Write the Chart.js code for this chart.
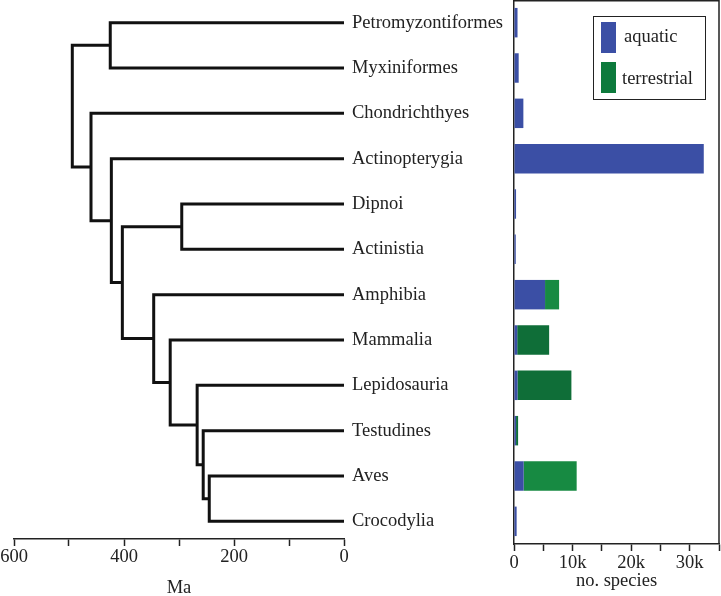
<!DOCTYPE html>
<html>
<head>
<meta charset="utf-8">
<script src="https://cdn.jsdelivr.net/npm/chart.js@4.4.1/dist/chart.umd.min.js"></script>
<style>
  html, body { margin: 0; padding: 0; background: #fff; overflow: hidden; }
  #wrap { position: relative; width: 721px; height: 596px; }
  canvas { position: absolute; left: 0; top: 0; }
  #legend { position: absolute; left: 593px; top: 16px; width: 113px; height: 84px; box-sizing: border-box;
            border: 1.5px solid #222; font-family: 'Liberation Serif', 'Times New Roman', serif; font-size: 18.5px; color: #222; }
  .sw { position: absolute; width: 15px; height: 31px; }
  .lt { position: absolute; line-height: 20px; white-space: nowrap; }
</style>
</head>
<body>
<div id="wrap">
  <canvas id="tree" width="721" height="596"></canvas>
  <canvas id="bars" width="721" height="596"></canvas>
  <div id="legend"></div>
</div>
<script>
// ---- data ----
const taxa = ['Petromyzontiformes','Myxiniformes','Chondrichthyes','Actinopterygia','Dipnoi','Actinistia',
              'Amphibia','Mammalia','Lepidosauria','Testudines','Aves','Crocodylia'];
const aquatic     = [600, 800, 1600, 32400, 350, 300, 5300, 550, 600, 350, 1650, 450];
const terrestrial = [0, 0, 0, 0, 0, 0, 2400, 5450, 9200, 350, 9050, 0];
const seriesNames = ['aquatic', 'terrestrial'];

const nodeNames = ['Vertebrata','Cyclostomata','Gnathostomata','Osteichthyes','Sarcopterygii','Dipnomorpha',
                   'Tetrapoda','Amniota','Sauropsida','Archelosauria','Archosauria'];
const nodeChildA = ['Cyclostomata','Petromyzontiformes','Chondrichthyes','Actinopterygia','Dipnomorpha','Dipnoi',
                    'Amphibia','Mammalia','Lepidosauria','Testudines','Aves'];
const nodeChildB = ['Gnathostomata','Myxiniformes','Osteichthyes','Sarcopterygii','Tetrapoda','Actinistia',
                    'Amniota','Sauropsida','Archelosauria','Archosauria','Crocodylia'];
const nodeAges = [494, 425, 460, 423, 403, 295, 346, 316, 267, 256, 245];   // Ma

const maTicks = [600, 400, 200, 0];
const speciesTicks = [0, 10000, 20000, 30000];

// ---- styles ----
const FONT = "'Liberation Serif', 'Times New Roman', serif";
const FS = 18.5;
const INK = '#222';
const BLUE = '#3b4fa5';
const GREEN_LEG = '#0d7a3c';
const greenFor = ['#178a42','#178a42','#178a42','#178a42','#178a42','#178a42',
                  '#178a42','#0f6e38','#0f6e38','#0f6e38','#178a42','#178a42'];

// ---- tree geometry from topology ----
function ageOf(n) { const i = nodeNames.indexOf(n); return i < 0 ? 0 : nodeAges[i]; }
function yOf(n) {
  const t = taxa.indexOf(n);
  if (t >= 0) return t;
  const i = nodeNames.indexOf(n);
  return (yOf(nodeChildA[i]) + yOf(nodeChildB[i])) / 2;
}
const treeSets = nodeNames.map((n, i) => {
  const a = nodeChildA[i], b = nodeChildB[i], age = nodeAges[i];
  return {
    data: [{x: ageOf(a), y: yOf(a)}, {x: age, y: yOf(a)}, {x: age, y: yOf(b)}, {x: ageOf(b), y: yOf(b)}],
    showLine: true, borderColor: '#111', borderWidth: 3, pointRadius: 0, tension: 0, fill: false,
    borderJoinStyle: 'miter', borderCapStyle: 'butt'
  };
});

new Chart(document.getElementById('tree'), {
  type: 'scatter',
  data: { datasets: treeSets },
  options: {
    responsive: false, animation: false,
    layout: { padding: { left: 14, right: 377, top: 0, bottom: 0 } },
    plugins: { legend: { display: false }, tooltip: { enabled: false } },
    scales: {
      x: {
        type: 'linear', min: 0, max: 600, reverse: true,
        afterFit: s => { s.height = 57; },
        grid: { display: true, drawOnChartArea: false, drawTicks: true, tickLength: 7, tickColor: INK, tickWidth: 1.5 },
        border: { display: true, color: INK, width: 1.5 },
        ticks: {
          stepSize: 100, padding: 0, color: INK, font: { family: FONT, size: FS }, maxRotation: 0, autoSkip: false,
          callback: v => maTicks.includes(v) ? String(v) : ''
        },
        title: { display: true, text: 'Ma', color: INK, font: { family: FONT, size: FS, lineHeight: 1 }, padding: { top: 0, bottom: -1 } }
      },
      y: { type: 'linear', display: false, min: -0.5, max: 11.39, reverse: true }
    }
  }
});

const framePlugin = {
  id: 'frame',
  afterDraw(chart) {
    const { ctx, chartArea: a } = chart;
    ctx.save();
    ctx.strokeStyle = INK; ctx.lineWidth = 1.5;
    ctx.beginPath();
    ctx.moveTo(a.left, a.top + 0.75); ctx.lineTo(a.right, a.top + 0.75); ctx.lineTo(a.right, a.bottom);
    ctx.stroke();
    ctx.restore();
  }
};

new Chart(document.getElementById('bars'), {
  type: 'bar',
  data: {
    labels: taxa,
    datasets: [
      { label: seriesNames[0], data: aquatic, backgroundColor: BLUE, borderWidth: 0, barPercentage: 0.65, categoryPercentage: 1 },
      { label: seriesNames[1], data: terrestrial, backgroundColor: greenFor, borderWidth: 0, barPercentage: 0.65, categoryPercentage: 1 }
    ]
  },
  options: {
    indexAxis: 'y', responsive: false, animation: false,
    layout: { padding: { left: 352, right: 2, top: 0, bottom: 0 } },
    plugins: { legend: { display: false }, tooltip: { enabled: false } },
    scales: {
      x: {
        stacked: true, min: 0, max: 35000,
        afterFit: s => { s.height = 52; },
        grid: { display: true, drawOnChartArea: false, drawTicks: true, tickLength: 7, tickColor: INK, tickWidth: 1.5 },
        border: { display: true, color: INK, width: 1.5 },
        ticks: {
          stepSize: 5000, padding: 1, color: INK, font: { family: FONT, size: FS }, maxRotation: 0, autoSkip: false,
          callback: v => speciesTicks.includes(v) ? (v === 0 ? '0' : (v / 1000) + 'k') : ''
        },
        title: { display: true, text: 'no. species', color: INK, font: { family: FONT, size: FS }, padding: { top: 0, bottom: 4 } }
      },
      y: {
        stacked: true,
        afterFit: s => { s.width = 162; s.paddingTop = 0; s.paddingBottom = 0; },
        grid: { display: false },
        border: { display: true, color: INK, width: 1.5 },
        ticks: { crossAlign: 'far', padding: 0, color: INK, font: { family: FONT, size: FS }, autoSkip: false }
      }
    }
  },
  plugins: [framePlugin]
});

// HTML legend built from series names
const leg = document.getElementById('legend');
const legColors = [BLUE, GREEN_LEG];
const legSwTop = [5, 45];
const legTxt = [{l: 30, t: 9}, {l: 28, t: 51}];
seriesNames.forEach((name, i) => {
  const sw = document.createElement('div');
  sw.className = 'sw'; sw.style.background = legColors[i];
  sw.style.left = '7px'; sw.style.top = legSwTop[i] + 'px';
  leg.appendChild(sw);
  const t = document.createElement('div');
  t.className = 'lt'; t.textContent = name;
  t.style.left = legTxt[i].l + 'px'; t.style.top = legTxt[i].t + 'px';
  leg.appendChild(t);
});
</script>
</body>
</html>
